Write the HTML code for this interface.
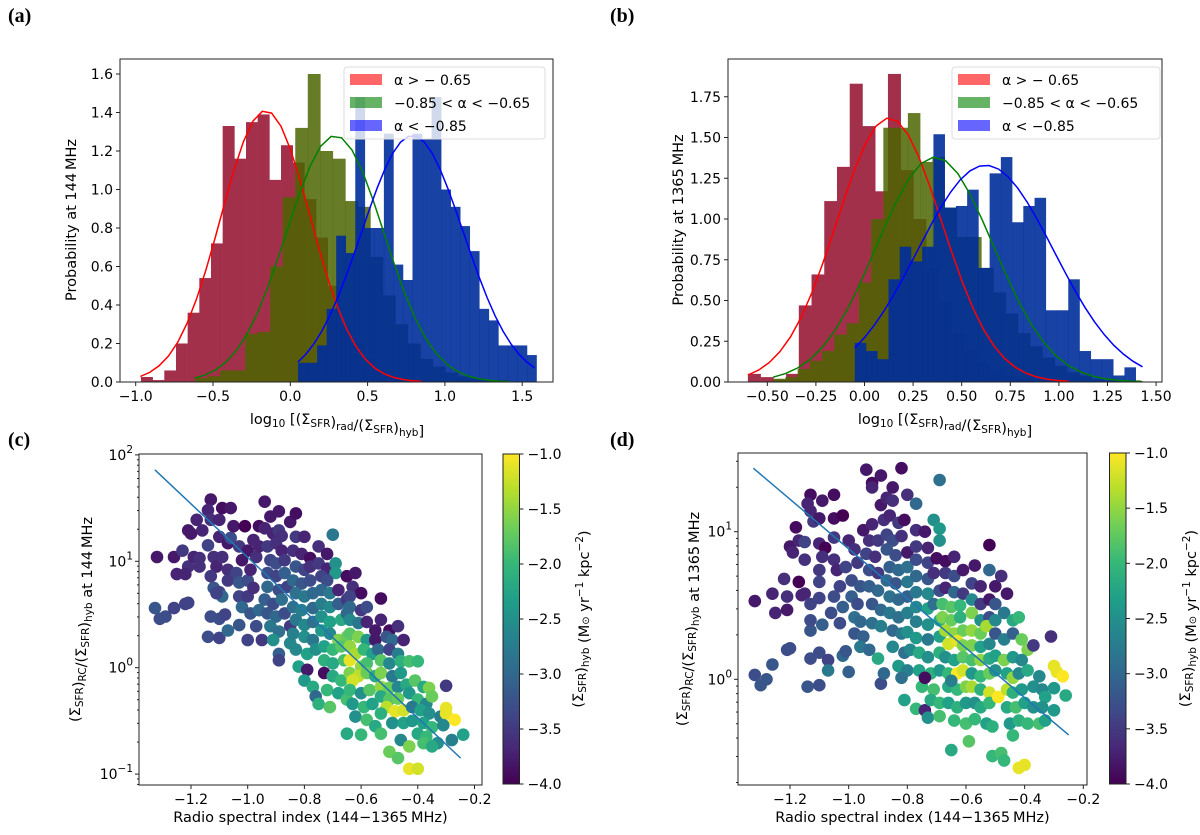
<!DOCTYPE html>
<html><head><meta charset="utf-8"><style>
html,body{margin:0;padding:0;background:#fff;}
svg{display:block;font-family:"DejaVu Sans","Liberation Sans",sans-serif;}
.t{font-size:14px;fill:#000;}
.lab{font-size:14.5px;fill:#000;}
.pl{font-family:"Liberation Serif",serif;font-weight:bold;font-size:20px;}
</style></head><body>
<svg id="fig" width="1200" height="835" viewBox="0 0 1200 835">
<text class="pl" x="8" y="22">(a)</text>
<text class="pl" x="610" y="22">(b)</text>
<text class="pl" x="8" y="446">(c)</text>
<text class="pl" x="610" y="446">(d)</text>
</svg>
<script>
// ---------- DATA ----------
const redA_start=-0.966, redA_width=0.0755;
const redA=[0.026,0.01,0.06,0.2,0.36,0.54,0.72,1.33,1.16,1.35,1.39,1.05,1.23,1.14,0.95,0.75,0.5,0.3,0.2,0.12,0.06,0.03,0.02,0.01,0.01];
const greenA_start=-0.616, greenA_width=0.081;
const greenA=[0.02,0.03,0.06,0.06,0.25,0.26,0.6,0.96,1.32,1.6,1.2,1.16,0.94,0.91,0.65,0.45,0.3,0.2,0.12,0.08,0.05,0.03,0.02,0.01,0.01];
const blueA_start=0.05, blueA_width=0.0617;
const blueA=[0.1,0.1,0.19,0.38,0.76,0.67,1.48,0.8,0.8,1.29,0.61,0.53,1.29,1.26,1.48,1.0,0.91,0.81,0.68,0.38,0.32,0.19,0.19,0.19,0.14];
const fitRedA=[1.41,-0.16,0.29,-0.97,0.85];
const fitGreenA=[1.28,0.29,0.315,-0.62,1.42];
const fitBlueA=[1.28,0.79,0.33,0.05,1.58];
const ticksAx=[-1.0,-0.5,0.0,0.5,1.0,1.5];
const ticksAy=[0,0.2,0.4,0.6,0.8,1.0,1.2,1.4,1.6];
const redB_start=-0.60, redB_width=0.0655;
const redB=[0.05,0.03,0.015,0.05,0.47,0.66,1.11,1.32,1.83,1.57,1.17,1.89,1.3,1.0,0.7,0.5,0.3,0.2,0.12,0.06,0.04,0.02,0.02,0.01,0.01];
const greenB_start=-0.47, greenB_width=0.063;
const greenB=[0.02,0.03,0.08,0.13,0.19,0.29,0.36,0.61,1.0,1.56,1.56,1.65,1.35,1.38,1.07,0.89,0.89,0.7,0.55,0.42,0.3,0.22,0.15,0.1,0.06,0.04,0.02,0.01,0.01,0.01];
const blueB_start=-0.05, blueB_width=0.0578;
const blueB=[0.24,0.19,0.14,0.63,0.83,0.74,0.83,1.52,1.07,1.08,1.18,0.7,1.28,1.38,0.98,1.08,1.13,0.44,0.44,0.63,0.19,0.14,0.14,0.04,0.09];
const fitRedB=[1.62,0.127,0.27,-0.60,1.05];
const fitGreenB=[1.38,0.363,0.30,-0.47,1.43];
const fitBlueB=[1.33,0.623,0.35,-0.05,1.43];
const ticksBx=[-0.5,-0.25,0,0.25,0.5,0.75,1.0,1.25,1.5];
const ticksBy=[0,0.25,0.5,0.75,1.0,1.25,1.5,1.75];
const ptsC=[[-1.327,0.56,-3.2],[-1.31,0.46,-3.3],[-1.29,0.48,-3.3],[-1.26,0.56,-3.4],[-1.32,1.04,-3.8],[-1.26,1.04,-3.8],[-1.25,0.88,-3.7],
[-1.23,1.1,-3.5],[-1.21,0.95,-3.6],[-1.22,0.88,-3.7],[-1.21,1.29,-3.8],[-1.2,1.26,-3.8],[-1.18,1.39,-3.7],[-1.22,0.6,-3.4],[-1.21,0.61,-3.4],[-1.19,1.04,-3.7],[-1.17,1.03,-3.6],[-1.16,1.29,-3.7],[-1.17,0.95,-3.6],
[-1.13,1.58,-3.8],[-1.14,1.48,-3.7],[-1.13,1.39,-3.6],[-1.1,1.39,-3.7],[-1.09,1.5,-3.9],[-1.06,1.5,-3.8],[-1.14,1.15,-3.4],[-1.12,1.04,-3.6],[-1.11,0.95,-3.7],[-1.13,0.86,-3.5],[-1.12,0.75,-3.2],[-1.1,0.71,-3.4],[-1.13,0.48,-3.3],[-1.1,0.46,-3.3],[-1.08,0.5,-3.4],[-1.14,0.29,-3.3],[-1.1,0.28,-3.4],[-1.07,0.35,-3.0],[-1.1,1.23,-3.7],[-1.07,1.17,-3.8],[-1.06,1.22,-3.3],[-1.09,1.04,-3.6],[-1.07,0.92,-3.6],[-1.07,0.82,-3.5],[-1.09,0.67,-3.0],[-1.11,0.7,-3.4],
[-1.05,1.33,-3.8],[-1.01,1.33,-4.0],[-1.03,1.14,-3.5],[-1.0,1.1,-3.8],[-1.02,1.01,-3.8],[-1.04,0.89,-3.4],[-1.03,0.8,-3.2],[-1.0,0.82,-3.3],[-1.03,0.67,-3.4],[-1.02,0.57,-3.0],[-1.0,0.67,-3.5],[-0.98,0.75,-3.6],[-0.99,0.92,-3.7],[-0.97,1.04,-3.6],[-0.96,1.14,-3.7],[-0.98,1.2,-3.7],[-1.03,0.4,-3.2],[-1.0,0.26,-3.4],[-0.96,1.33,-3.9],[-0.99,0.51,-3.2],[-0.96,0.54,-3.0],[-0.97,0.39,-3.3],[-0.95,0.26,-3.5],[-0.94,1.56,-3.8],
[-0.92,1.42,-3.8],[-0.89,1.47,-3.8],[-0.94,1.31,-3.7],[-0.91,1.26,-3.7],[-0.89,1.29,-3.5],[-0.88,1.24,-3.6],[-0.93,1.14,-3.5],[-0.9,1.17,-3.6],[-0.88,1.1,-3.7],[-0.92,1.01,-3.4],[-0.9,0.98,-3.3],[-0.87,1.01,-3.5],[-0.93,0.89,-3.3],[-0.9,0.86,-3.4],[-0.87,0.89,-3.1],[-0.93,0.76,-3.0],[-0.89,0.73,-3.3],[-0.86,0.76,-3.4],[-0.94,0.64,-3.1],[-0.91,0.6,-3.3],[-0.88,0.64,-2.9],[-0.93,0.51,-3.2],[-0.9,0.48,-3.0],[-0.87,0.51,-3.3],[-0.92,0.39,-2.8],[-0.89,0.34,-2.9],[-0.91,0.26,-2.5],[-0.89,0.13,-3.1],[-0.89,0.07,-3.4],[-0.85,0.39,-3.5],[-0.85,0.23,-2.6],[-0.85,1.37,-3.8],[-0.83,1.45,-3.9],
[-0.83,1.23,-3.5],[-0.8,1.23,-3.7],[-0.84,1.1,-3.6],[-0.81,1.07,-3.7],[-0.78,1.03,-3.9],[-0.83,0.95,-3.2],[-0.8,0.92,-3.4],[-0.78,0.95,-3.6],[-0.84,0.82,-3.0],[-0.81,0.79,-3.2],[-0.78,0.82,-3.3],[-0.83,0.7,-2.9],[-0.8,0.67,-2.8],[-0.77,0.7,-3.0],[-0.84,0.57,-2.9],[-0.81,0.54,-2.7],[-0.77,0.56,-3.0],[-0.83,0.45,-2.8],[-0.8,0.4,-2.6],[-0.77,0.43,-2.9],[-0.84,0.32,-2.7],[-0.8,0.29,-2.5],[-0.77,0.26,-2.8],[-0.83,0.17,-2.6],[-0.79,0.13,-2.3],[-0.76,0.17,-2.5],[-0.82,0.01,-2.3],[-0.79,-0.02,-3.8],[-0.8,-0.12,-2.4],[-0.77,-0.18,-2.2],[-0.76,-0.27,-3.0],[-0.75,-0.34,-2.1],[-0.7,1.25,-2.8],
[-0.75,1.14,-3.6],[-0.72,1.07,-3.8],[-0.75,0.98,-3.5],[-0.72,0.93,-3.7],[-0.69,0.98,-2.5],[-0.69,0.89,-2.4],[-0.74,0.86,-3.4],[-0.72,0.82,-3.3],[-0.74,0.73,-3.0],[-0.71,0.7,-2.8],[-0.68,0.73,-3.7],[-0.74,0.6,-2.7],[-0.71,0.57,-2.6],[-0.68,0.6,-3.1],[-0.65,0.64,-3.5],[-0.74,0.48,-2.5],[-0.71,0.43,-2.3],[-0.67,0.45,-2.2],[-0.65,0.51,-3.0],[-0.74,0.35,-2.4],[-0.71,0.32,-2.6],[-0.68,0.26,-1.6],[-0.65,0.29,-1.7],[-0.73,0.2,-2.3],[-0.7,0.17,-2.0],[-0.67,0.2,-1.8],[-0.73,0.07,-2.1],[-0.7,0.04,-2.2],[-0.66,0.07,-1.9],[-0.73,-0.05,-3.9],[-0.7,-0.08,-2.2],[-0.67,-0.12,-2.0],[-0.72,-0.21,-2.0],[-0.68,-0.24,-2.3],[-0.65,-0.3,-1.9],[-0.71,-0.37,-1.8],[-0.65,-0.62,-2.2],
[-0.65,0.86,-3.9],[-0.62,0.89,-3.8],[-0.63,0.76,-3.6],[-0.6,0.7,-3.9],[-0.64,0.67,-3.4],[-0.64,0.57,-3.0],[-0.6,0.54,-3.5],[-0.58,0.57,-3.3],[-0.64,0.45,-2.6],[-0.61,0.42,-2.8],[-0.58,0.43,-3.7],[-0.55,0.35,-3.8],[-0.64,0.32,-1.8],[-0.61,0.29,-1.6],[-0.58,0.26,-2.4],[-0.64,0.2,-1.5],[-0.62,0.13,-1.4],[-0.59,0.17,-2.0],[-0.56,0.13,-2.3],[-0.64,0.07,-1.1],[-0.6,0.01,-1.5],[-0.58,0.04,-1.9],[-0.64,-0.05,-1.6],[-0.61,-0.08,-1.3],[-0.58,-0.05,-1.7],[-0.55,-0.08,-2.2],[-0.63,-0.12,-1.2],[-0.64,-0.21,-2.0],[-0.6,-0.24,-2.5],[-0.57,-0.21,-1.8],[-0.63,-0.34,-2.4],[-0.59,-0.37,-2.0],[-0.56,-0.34,-2.3],[-0.62,-0.46,-2.5],[-0.58,-0.49,-1.9],[-0.6,-0.63,-2.0],[-0.55,-0.55,-2.2],
[-0.53,0.65,-3.9],[-0.53,0.45,-3.7],[-0.5,0.35,-3.9],[-0.47,0.39,-3.6],[-0.55,0.26,-3.8],[-0.51,0.29,-3.2],[-0.49,0.26,-3.0],[-0.45,0.26,-3.7],[-0.54,0.17,-3.0],[-0.5,0.17,-3.4],[-0.47,0.13,-2.7],[-0.53,0.07,-1.8],[-0.5,0.04,-2.6],[-0.46,0.06,-2.1],[-0.53,-0.05,-1.6],[-0.49,-0.08,-2.8],[-0.46,-0.05,-2.4],[-0.43,0.06,-1.9],[-0.4,0.06,-2.0],[-0.53,-0.18,-1.5],[-0.5,-0.19,-1.7],[-0.47,-0.18,-2.6],[-0.44,-0.16,-2.2],[-0.53,-0.27,-2.2],[-0.5,-0.3,-1.8],[-0.47,-0.29,-1.7],[-0.51,-0.37,-1.3],[-0.48,-0.41,-1.1],[-0.45,-0.4,-1.2],[-0.53,-0.43,-2.1],[-0.49,-0.52,-2.5],[-0.45,-0.52,-2.3],[-0.53,-0.62,-1.9],[-0.5,-0.79,-1.7],[-0.47,-0.85,-1.8],[-0.46,-0.68,-2.6],[-0.43,-0.74,-1.6],
[-0.41,-0.12,-1.8],[-0.38,-0.18,-2.2],[-0.36,-0.19,-1.6],[-0.3,-0.17,-3.5],[-0.43,-0.24,-2.4],[-0.4,-0.3,-2.0],[-0.37,-0.34,-2.6],[-0.35,-0.27,-1.7],[-0.42,-0.37,-2.8],[-0.39,-0.4,-2.3],[-0.36,-0.43,-2.5],[-0.32,-0.46,-2.7],[-0.3,-0.38,-1.1],[-0.3,-0.43,-1.1],[-0.27,-0.49,-1.0],[-0.42,-0.5,-2.4],[-0.38,-0.52,-2.3],[-0.35,-0.56,-2.0],[-0.31,-0.54,-2.6],[-0.4,-0.62,-2.2],[-0.37,-0.65,-2.0],[-0.33,-0.71,-2.5],[-0.28,-0.68,-2.7],[-0.24,-0.63,-2.3],[-0.38,-0.71,-1.9],[-0.35,-0.74,-2.2],[-0.43,-0.95,-1.1],[-0.4,-0.95,-1.2]];
const fitC=[[-1.327,1.859],[-0.249,-0.85]];
const ticksCx=[-1.2,-1.0,-0.8,-0.6,-0.4,-0.2];
const decadesC=[-1,0,1,2];
const ptsD=[[-1.32,0.03,-3.3],[-1.3,-0.04,-3.2],[-1.28,0.0,-3.2],[-1.32,0.53,-3.8],[-1.26,0.1,-3.2],[-1.25,0.45,-3.7],[-1.26,0.58,-3.7],[-1.22,0.68,-3.6],[-1.21,0.56,-3.6],[-1.21,0.47,-3.8],[-1.21,0.2,-3.3],[-1.2,0.21,-3.3],[-1.2,0.9,-3.8],[-1.19,0.86,-3.7],[-1.18,1.03,-3.9],[-1.17,0.94,-3.7],[-1.17,0.66,-4.0],[-1.16,0.57,-3.7],[-1.15,0.58,-3.7],[-1.15,0.93,-3.4],[-1.15,0.81,-3.6],[-1.14,-0.05,-3.2],[-1.13,0.14,-3.3],[-1.13,0.33,-3.2],[-1.13,0.4,-3.3],[-1.13,0.51,-3.4],[-1.13,1.25,-3.9],[-1.14,1.19,-3.7],[-1.13,1.14,-3.7],[-1.12,1.07,-3.5],[-1.1,1.09,-3.8],[-1.09,1.21,-3.8],[-1.05,1.25,-3.9],[-1.1,0.92,-3.7],[-1.08,0.89,-4.0],[-1.09,0.83,-3.6],[-1.1,0.74,-3.5],[-1.1,0.66,-3.4],[-1.1,0.55,-3.4],[-1.09,0.37,-3.1],[-1.1,0.18,-3.3],[-1.07,0.13,-3.4],[-1.07,0.06,-2.8],[-1.1,-0.04,-3.3],[-1.06,0.45,-3.3],[-1.05,0.96,-3.5],[-1.05,1.09,-3.9],[-1.02,1.11,-4.0],[-1.05,0.81,-3.6],[-1.04,0.74,-3.7],[-1.03,0.63,-3.4],[-1.05,0.56,-3.3],[-1.02,0.49,-3.1],[-1.03,0.38,-3.3],[-1.02,0.16,-3.0],[-1.01,0.19,-3.2],[-1.0,0.05,-3.1],
[-1.0,0.94,-3.7],[-0.98,0.88,-3.6],[-1.01,0.76,-3.4],[-0.97,0.79,-3.5],[-0.99,0.67,-3.3],[-0.96,0.63,-3.2],[-0.99,0.56,-3.1],[-0.97,0.51,-3.3],[-0.98,0.42,-2.9],[-0.96,0.39,-3.0],[-0.98,0.31,-3.2],[-0.95,0.29,-3.1],[-0.96,0.22,-2.8],[-0.93,0.2,-3.0],[-0.94,1.42,-3.8],[-0.92,1.33,-3.9],[-0.89,1.38,-3.8],[-0.92,1.3,-3.7],[-0.95,1.01,-3.8],[-0.92,1.05,-3.7],[-0.93,0.94,-3.6],[-0.9,0.94,-3.5],[-0.94,0.85,-3.4],[-0.91,0.83,-3.6],[-0.93,0.74,-3.3],[-0.9,0.72,-3.5],[-0.93,0.63,-3.1],[-0.9,0.6,-3.0],[-0.92,0.51,-3.2],[-0.89,0.47,-3.0],[-0.92,0.38,-2.9],[-0.89,0.36,-2.7],[-0.9,0.14,-2.2],[-0.89,-0.03,-3.3],[-0.88,0.04,-3.0],
[-0.89,1.18,-3.8],[-0.87,1.23,-3.7],[-0.85,1.3,-3.8],[-0.85,1.21,-3.6],[-0.82,1.43,-3.9],[-0.8,1.25,-3.6],[-0.88,1.08,-3.6],[-0.86,1.11,-3.7],[-0.83,1.06,-3.5],[-0.81,1.08,-3.9],[-0.87,0.98,-3.4],[-0.85,0.94,-3.3],[-0.82,0.97,-3.6],[-0.87,0.88,-3.2],[-0.84,0.84,-3.3],[-0.8,0.86,-3.8],[-0.86,0.76,-3.1],[-0.83,0.74,-3.0],[-0.8,0.76,-2.9],[-0.87,0.67,-3.0],[-0.84,0.65,-3.2],[-0.8,0.66,-2.8],[-0.86,0.56,-2.9],[-0.83,0.54,-3.0],[-0.8,0.56,-3.1],[-0.86,0.45,-2.8],[-0.83,0.42,-2.9],[-0.8,0.45,-2.7],[-0.85,0.33,-3.0],[-0.82,0.31,-2.8],[-0.8,0.32,-2.5],[-0.85,0.22,-2.6],[-0.81,0.18,-2.9],[-0.79,0.2,-2.6],[-0.83,0.09,-2.4],[-0.8,0.06,-2.7],[-0.82,0.01,-2.9],[-0.81,-0.14,-2.3],[-0.77,-0.2,-2.0],[-0.74,-0.21,-3.7],[-0.77,1.19,-3.0],
[-0.77,1.01,-3.6],[-0.74,1.0,-3.8],[-0.71,1.08,-2.5],[-0.69,1.35,-2.9],[-0.69,1.02,-2.4],[-0.77,0.9,-3.5],[-0.73,0.89,-3.7],[-0.69,0.94,-2.5],[-0.77,0.81,-3.3],[-0.73,0.79,-3.4],[-0.7,0.82,-3.9],[-0.77,0.7,-3.0],[-0.73,0.68,-3.2],[-0.71,0.72,-3.6],[-0.77,0.59,-2.8],[-0.73,0.58,-2.6],[-0.69,0.6,-3.3],[-0.77,0.49,-2.6],[-0.73,0.48,-2.3],[-0.71,0.51,-2.9],[-0.77,0.39,-2.7],[-0.73,0.37,-2.5],[-0.69,0.4,-2.2],[-0.77,0.28,-2.4],[-0.73,0.27,-2.8],[-0.69,0.29,-2.3],[-0.76,0.18,-2.2],[-0.73,0.15,-2.5],[-0.69,0.18,-2.1],[-0.76,0.06,-2.3],[-0.72,0.04,-2.1],[-0.69,0.06,-2.4],[-0.75,-0.05,-2.0],[-0.71,-0.07,-1.9],[-0.72,-0.14,-2.2],[-0.69,-0.16,-2.0],[-0.73,-0.26,-2.5],[-0.69,-0.25,-1.9],[-0.65,-0.48,-2.2],[-0.74,0.01,-3.9],
[-0.67,0.8,-3.9],[-0.64,0.83,-3.7],[-0.67,0.72,-3.5],[-0.64,0.7,-3.3],[-0.61,0.74,-3.8],[-0.67,0.62,-3.7],[-0.64,0.59,-3.0],[-0.61,0.58,-3.5],[-0.68,0.51,-1.9],[-0.65,0.49,-1.8],[-0.62,0.5,-2.0],[-0.68,0.42,-1.6],[-0.65,0.4,-1.7],[-0.62,0.42,-2.1],[-0.67,0.33,-1.4],[-0.64,0.31,-1.5],[-0.61,0.33,-1.7],[-0.66,0.24,-1.2],[-0.63,0.26,-1.1],[-0.61,0.23,-1.6],[-0.67,0.15,-2.5],[-0.64,0.13,-2.3],[-0.61,0.15,-1.8],[-0.66,0.04,-2.0],[-0.63,0.04,-1.0],[-0.61,0.06,-1.2],[-0.66,-0.05,-2.2],[-0.63,-0.07,-2.0],[-0.6,-0.05,-1.6],[-0.66,-0.16,-2.3],[-0.63,-0.19,-2.1],[-0.6,-0.16,-2.4],[-0.64,-0.28,-2.0],[-0.6,-0.3,-1.9],[-0.59,-0.42,-1.8],[-0.65,-0.01,-2.7],
[-0.57,0.77,-3.8],[-0.58,0.65,-3.4],[-0.55,0.63,-3.7],[-0.52,0.91,-4.0],[-0.52,0.74,-3.0],[-0.58,0.54,-2.6],[-0.55,0.51,-3.5],[-0.52,0.54,-3.8],[-0.58,0.45,-1.6],[-0.55,0.4,-2.5],[-0.52,0.42,-3.3],[-0.58,0.33,-1.5],[-0.55,0.31,-1.7],[-0.53,0.36,-1.4],[-0.58,0.23,-1.6],[-0.55,0.22,-2.3],[-0.52,0.24,-2.6],[-0.58,0.13,-1.9],[-0.55,0.13,-1.5],[-0.52,0.14,-2.2],[-0.58,0.04,-2.4],[-0.55,0.02,-2.0],[-0.52,0.04,-1.7],[-0.58,-0.05,-1.4],[-0.55,-0.07,-2.1],[-0.52,-0.09,-1.2],[-0.57,-0.16,-2.5],[-0.55,-0.19,-2.2],[-0.52,-0.16,-2.0],[-0.57,-0.27,-2.0],[-0.53,-0.3,-2.3],[-0.51,-0.32,-2.1],[-0.51,-0.52,-2.0],[-0.48,-0.5,-1.9],[-0.47,-0.55,-2.0],[-0.49,-0.12,-1.0],
[-0.5,0.63,-3.8],[-0.48,0.7,-3.6],[-0.46,0.58,-3.8],[-0.5,0.51,-3.2],[-0.47,0.45,-2.8],[-0.44,0.4,-2.2],[-0.42,0.42,-2.0],[-0.5,0.4,-2.6],[-0.5,0.31,-3.2],[-0.47,0.27,-2.7],[-0.44,0.31,-3.1],[-0.41,0.27,-1.7],[-0.39,0.2,-1.6],[-0.37,0.23,-3.5],[-0.5,0.16,-2.3],[-0.47,0.13,-1.6],[-0.44,0.15,-2.4],[-0.41,0.13,-2.6],[-0.5,0.06,-2.5],[-0.46,0.04,-2.3],[-0.44,0.01,-1.5],[-0.42,0.04,-2.6],[-0.39,0.06,-2.2],[-0.35,0.02,-2.6],[-0.46,-0.07,-1.3],[-0.44,-0.09,-2.1],[-0.41,-0.07,-2.4],[-0.37,-0.05,-2.5],[-0.46,-0.19,-2.2],[-0.43,-0.19,-1.9],[-0.4,-0.16,-2.3],[-0.37,-0.19,-2.5],[-0.45,-0.3,-2.4],[-0.42,-0.28,-2.1],[-0.39,-0.3,-2.0],[-0.35,-0.3,-1.9],[-0.44,-0.38,-2.0],[-0.42,-0.6,-1.1],[-0.4,-0.58,-1.1],[-0.34,-0.19,-2.6],
[-0.31,0.29,-3.6],[-0.3,0.09,-1.1],[-0.29,0.05,-1.1],[-0.27,0.02,-1.0],[-0.34,-0.07,-2.6],[-0.3,-0.06,-2.4],[-0.33,-0.12,-2.3],[-0.34,-0.19,-2.5],[-0.3,-0.21,-2.4],[-0.26,-0.11,-2.2],[-0.33,-0.28,-2.3]];
const fitD=[[-1.325,1.43],[-0.25,-0.377]];
const ticksDx=[-1.2,-1.0,-0.8,-0.6,-0.4,-0.2];
const decadesD=[0,1];
const cbarTicks=[-1.0,-1.5,-2.0,-2.5,-3.0,-3.5,-4.0];
const viridis=[[68,1,84],[72,40,120],[62,74,137],[49,104,142],[38,130,142],[31,158,137],[53,183,121],[110,206,88],[181,222,43],[253,231,37]];

// ---------- RENDER ----------
const NS='http://www.w3.org/2000/svg';
const svg=document.getElementById('fig');
function el(tag,parent){const e=document.createElementNS(NS,tag);parent.appendChild(e);return e;}
function setA(e,o){for(const k in o)e.setAttribute(k,o[k]);return e;}
function vir(v){let t=(v+4)/3;t=Math.max(0,Math.min(1,t));const f=t*9,i=Math.min(8,Math.floor(f)),r=f-i;const a=viridis[i],b=viridis[i+1];return 'rgb('+[0,1,2].map(k=>Math.round(a[k]+(b[k]-a[k])*r)).join(',')+')';}
function fmt(v,d){return (v<0?'\u2212':'')+Math.abs(v).toFixed(d);}

function frame(g,x0,y0,x1,y1,name){const r=el('rect',g);setA(r,{x:x0,y:y0,width:x1-x0,height:y1-y0,fill:'none',stroke:'#222','stroke-width':1});

}

function xTicks(g,ticks,sx,yb,dec,prefix){ticks.forEach(v=>{const x=sx(v);const l=el('line',g);setA(l,{x1:x,x2:x,y1:yb,y2:yb+4,stroke:'#222'});


const t=el('text',g);setA(t,{x:x,y:yb+19,'text-anchor':'middle',class:'t'});t.textContent=fmt(v,dec);

});}
function yTicks(g,ticks,sy,xl,dec,prefix){ticks.forEach(v=>{const y=sy(v);const l=el('line',g);setA(l,{x1:xl-4,x2:xl,y1:y,y2:y,stroke:'#222'});


const t=el('text',g);setA(t,{x:xl-7,y:y+5,'text-anchor':'end',class:'t'});t.textContent=fmt(v,dec);

});}

function hist(g,start,w,vals,sx,sy,fill,name){vals.forEach((h,i)=>{if(h<=0)return;const a=start+i*w;const r=el('rect',g);setA(r,{x:sx(a),y:sy(h),width:sx(a+w)-sx(a)+0.3,height:sy(0)-sy(h),fill:fill});

});}
function gauss(g,p,sx,sy,col,name){const pts=[];for(let i=0;i<=30;i++){const x=p[3]+(p[4]-p[3])*i/30;pts.push(sx(x).toFixed(1)+','+sy(p[0]*Math.exp(-(x-p[1])*(x-p[1])/(2*p[2]*p[2]))).toFixed(1));}
const pl=el('polyline',g);setA(pl,{points:pts.join(' '),fill:'none',stroke:col,'stroke-width':1.5});

}

function legend(g,x0,y0,w,prefix){const b=el('rect',g);setA(b,{x:x0,y:y0,width:w,height:72,rx:3,fill:'rgba(255,255,255,0.8)',stroke:'#ddd'});


const items=[['rgba(255,0,0,0.6)','\u03B1 > \u2212 0.65'],['rgba(0,128,0,0.6)','\u22120.85 < \u03B1 < \u22120.65'],['rgba(0,0,255,0.6)','\u03B1 < \u22120.85']];
items.forEach((it,i)=>{const r=el('rect',g);setA(r,{x:x0+6,y:y0+7+i*23,width:32,height:11,fill:it[0]});


const t=el('text',g);setA(t,{x:x0+50,y:y0+18+i*23,class:'t','font-size':'14.5'});t.textContent=it[1];

});}

function rotText(g,x,y,html,name){const t=el('text',g);setA(t,{x:0,y:0,transform:'translate('+x+','+y+') rotate(-90)','text-anchor':'middle',class:'lab'});t.innerHTML=html;

return t;}
function hText(g,x,y,html,name){const t=el('text',g);setA(t,{x:x,y:y,'text-anchor':'middle',class:'lab'});t.innerHTML=html;

return t;}
const SUB=(s)=>'<tspan dy="3" font-size="10.5">'+s+'</tspan><tspan dy="-3"></tspan>';
const xlabHist='log<tspan dy="3" font-size="10.5">10</tspan><tspan dy="-3"> [(\u03A3</tspan>'+SUB('SFR')+')'+SUB('rad')+'/(\u03A3'+SUB('SFR')+')'+SUB('hyb')+']';

(function(){const g=el('g',svg);


const sx=v=>135.7+(v+1)*154.6, sy=v=>382-v*192.5;
hist(g,redA_start,redA_width,redA,sx,sy,'#a3304a','bar-red-a');
hist(g,greenA_start,greenA_width,greenA,sx,sy,'rgba(76,101,0,0.85)','bar-green-a');
hist(g,blueA_start,blueA_width,blueA,sx,sy,'rgba(0,46,155,0.9)','bar-blue-a');
gauss(g,fitRedA,sx,sy,'#ff0000','fit-red-a');gauss(g,fitGreenA,sx,sy,'#008000','fit-green-a');gauss(g,fitBlueA,sx,sy,'#0000ff','fit-blue-a');
frame(g,120,59,553,382,'panel-a-frame');
xTicks(g,ticksAx,sx,382,1,'a');yTicks(g,ticksAy,sy,120,1,'a');
legend(g,344,67,201,'a');
rotText(g,76,220,'Probability at 144\u2009MHz','a-y-axis-title');
hText(g,337,424,xlabHist,'a-x-axis-title');})();

(function(){const g=el('g',svg);


const sx=v=>864.5+v*194.4, sy=v=>382-v*163;
hist(g,redB_start,redB_width,redB,sx,sy,'#a3304a','bar-red-b');
hist(g,greenB_start,greenB_width,greenB,sx,sy,'rgba(76,101,0,0.85)','bar-green-b');
hist(g,blueB_start,blueB_width,blueB,sx,sy,'rgba(0,46,155,0.9)','bar-blue-b');
gauss(g,fitRedB,sx,sy,'#ff0000','fit-red-b');gauss(g,fitGreenB,sx,sy,'#008000','fit-green-b');gauss(g,fitBlueB,sx,sy,'#0000ff','fit-blue-b');
frame(g,728,59,1162,382,'panel-b-frame');
xTicks(g,ticksBx,sx,382,2,'b');yTicks(g,ticksBy,sy,728,2,'b');
legend(g,952,67,208,'b');
rotText(g,683,220,'Probability at 1365\u2009MHz','b-y-axis-title');
hText(g,945,424,xlabHist,'b-x-axis-title');})();

function scatter(pts,fit,ticksX,decades,sx,sy,fr,cb,prefix,ylabHtml,ylabX,cbTitleX){
const g=el('g',svg);


pts.forEach(p=>{const c=el('circle',g);setA(c,{cx:sx(p[0]).toFixed(1),cy:sy(p[1]).toFixed(1),r:6.3,fill:vir(p[2])});

});
const ln=el('line',g);setA(ln,{x1:sx(fit[0][0]),y1:sy(fit[0][1]),x2:sx(fit[1][0]),y2:sy(fit[1][1]),stroke:'#1f77b4','stroke-width':1.5});


frame(g,fr[0],fr[1],fr[2],fr[3],prefix+'-frame');
xTicks(g,ticksX,sx,fr[3],1,prefix);
for(let d=-2;d<=2;d++){for(let m=1;m<10;m++){const lv=d+Math.log10(m);const y=sy(lv);if(y<fr[1]-0.5||y>fr[3]+0.5)continue;
const l=el('line',g);setA(l,{x1:fr[0]-(m===1?4:2),x2:fr[0],y1:y,y2:y,stroke:'#222'});

}}
decades.forEach(d=>{const y=sy(d);const t=el('text',g);setA(t,{x:fr[0]-6,y:y+5,'text-anchor':'end',class:'t','font-size':'15'});
t.innerHTML='10<tspan dy="-7" font-size="10.5">'+(d<0?'\u2212'+(-d):d)+'</tspan>';

});
const defs=el('defs',g);const lg=el('linearGradient',defs);setA(lg,{id:'vg'+prefix,x1:0,y1:1,x2:0,y2:0});
viridis.forEach((c,i)=>{const s=el('stop',lg);setA(s,{offset:(i/9),'stop-color':'rgb('+c.join(',')+')'});});
const cr=el('rect',g);setA(cr,{x:cb[0],y:cb[1],width:cb[2]-cb[0],height:cb[3]-cb[1],fill:'url(#vg'+prefix+')',stroke:'#222'});


cbarTicks.forEach(v=>{const y=cb[1]+(cb[3]-cb[1])*(-1-v)/3;const l=el('line',g);setA(l,{x1:cb[2],x2:cb[2]+4,y1:y,y2:y,stroke:'#222'});


const t=el('text',g);setA(t,{x:cb[2]+8,y:y+5,class:'t','font-size':'15'});t.textContent=fmt(v,1);

});
rotText(g,cbTitleX,(cb[1]+cb[3])/2,'(\u03A3'+SUB('SFR')+')'+SUB('hyb')+' (M<tspan font-size="10">\u2299</tspan> yr<tspan dy="-6" font-size="10.5">\u22121</tspan><tspan dy="6"> kpc</tspan><tspan dy="-6" font-size="10.5">\u22122</tspan><tspan dy="6">)</tspan>',prefix+'-colorbar-title');
rotText(g,ylabX,(fr[1]+fr[3])/2,ylabHtml,prefix+'-y-axis-title');
hText(g,(fr[0]+fr[2])/2,822,'Radio spectral index (144\u22121365\u2009MHz)',prefix+'-x-axis-title');}

const ylabBase='(\u03A3'+SUB('SFR')+')'+SUB('RC')+'/(\u03A3'+SUB('SFR')+')'+SUB('hyb')+' at ';
scatter(ptsC,fitC,ticksCx,decadesC,a=>191+(a+1.2)*283.5,l=>667.7-l*106.4,[139,454,482,785],[503,454,519.5,784],'c',ylabBase+'144\u2009MHz',80,583);
scatter(ptsD,fitD,ticksDx,decadesD,a=>790+(a+1.2)*293.3,l=>679.3-l*147.6,[738,453,1087,785],[1109.5,453,1126,784],'d',ylabBase+'1365\u2009MHz',687,1190);
</script>
</body></html>
